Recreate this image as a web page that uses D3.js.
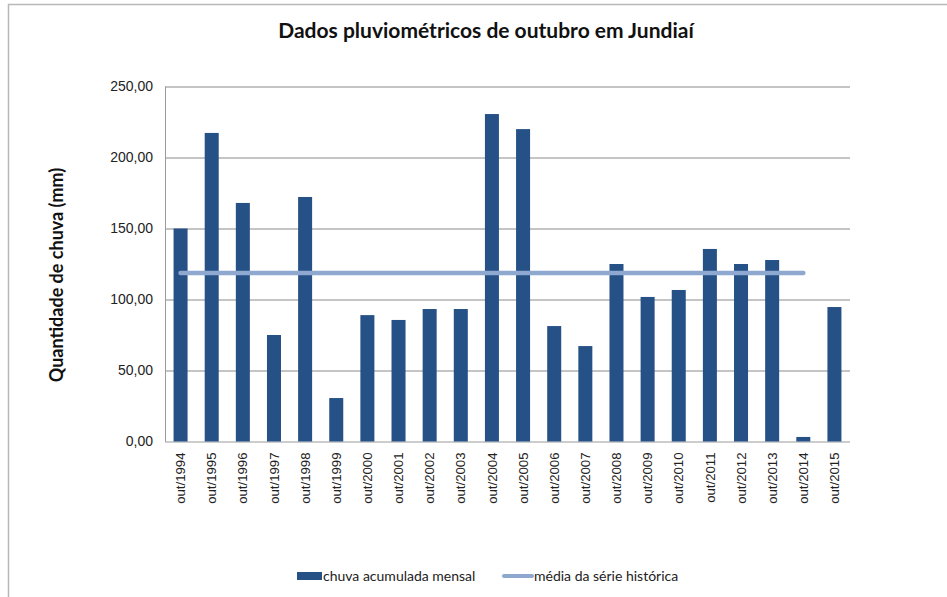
<!DOCTYPE html>
<html>
<head>
<meta charset="utf-8">
<title>Dados pluviométricos de outubro em Jundiaí</title>
<script src="https://d3js.org/d3.v7.min.js"></script>
<style>
body { margin: 0; background: #fff; }
svg { font-family: Lato, "Open Sans", sans-serif; }
.grid line { stroke: #8a8a8a; stroke-width: 1px; }
.axis text { fill: #222; }
</style>
</head>
<body>
<script>
// meses (outubro de cada ano)
var months = ["out/1994","out/1995","out/1996","out/1997","out/1998","out/1999","out/2000","out/2001",
  "out/2002","out/2003","out/2004","out/2005","out/2006","out/2007","out/2008","out/2009",
  "out/2010","out/2011","out/2012","out/2013","out/2014","out/2015"];

// chuva acumulada mensal (mm)
var rain = [150.0, 217.3, 168.0, 75.0, 172.2, 30.6, 89.0, 85.6, 93.3, 93.3, 230.6, 220.0,
  81.3, 67.2, 125.0, 101.8, 106.7, 135.6, 125.0, 127.8, 3.2, 94.7];

// média da série histórica (só até 2014)
var meanValue = 118.6;
var meanMonths = months.slice(0, 21);

var yTicks = [0, 50, 100, 150, 200, 250];

var W = 947, H = 597;
var margin = {left: 165, right: 97, top: 86.5, bottom: 155.5};
var iw = W - margin.left - margin.right,
    ih = H - margin.top - margin.bottom;

var svg = d3.select("body").append("svg")
    .attr("width", W)
    .attr("height", H);

// chart frame
svg.append("rect")
    .attr("x", 8.5).attr("y", 4.5)
    .attr("width", 1000).attr("height", 1000)
    .attr("fill", "#fff")
    .attr("stroke", "#b8b8b8")
    .attr("stroke-width", 1.5);

svg.append("text")
    .attr("x", 486).attr("y", 38)
    .attr("text-anchor", "middle")
    .style("font-size", "21px")
    .style("font-weight", "bold")
    .style("fill", "#111")
    .text("Dados pluviométricos de outubro em Jundiaí");

var g = svg.append("g")
    .attr("transform", "translate(" + margin.left + "," + margin.top + ")");

var x = d3.scaleBand()
    .domain(months)
    .range([0, iw])
    .paddingInner(0.55)
    .paddingOuter(0.275);

var y = d3.scaleLinear()
    .domain([0, 250])
    .range([ih, 0]);

// gridlines
g.append("g")
    .attr("class", "grid")
  .selectAll("line")
    .data(yTicks)
  .enter().append("line")
    .attr("x1", 0)
    .attr("x2", iw)
    .attr("y1", function(d) { return Math.round(y(d)) + 0.5; })
    .attr("y2", function(d) { return Math.round(y(d)) + 0.5; })
    .style("stroke", function(d) { return d === 0 ? "#9a9a9a" : "#8a8a8a"; });

// left axis line
g.append("line")
    .attr("x1", 0.5).attr("x2", 0.5)
    .attr("y1", 0).attr("y2", ih)
    .attr("stroke", "#9a9a9a");

var fmt = function(d) { return d3.format(".2f")(d).replace(".", ","); };

var yAxis = g.append("g")
    .attr("class", "axis")
    .call(d3.axisLeft(y).tickValues(yTicks).tickFormat(fmt).tickSize(0).tickPadding(12));
yAxis.select(".domain").remove();
yAxis.selectAll("text").style("font-size", "14px");

// bars
g.selectAll(".bar")
    .data(rain)
  .enter().append("rect")
    .attr("class", "bar")
    .attr("x", function(d, i) { return x(months[i]); })
    .attr("y", function(d) { return y(d); })
    .attr("width", x.bandwidth())
    .attr("height", function(d) { return ih - y(d); })
    .attr("fill", "#255186");

// mean line
var line = d3.line()
    .x(function(d) { return x(d) + x.bandwidth() / 2; })
    .y(function() { return y(meanValue); });

g.append("path")
    .datum(meanMonths)
    .attr("d", line)
    .attr("fill", "none")
    .attr("stroke", "#8ea8d0")
    .attr("stroke-width", 4.5)
    .attr("stroke-linecap", "round");

// x labels
var xAxis = g.append("g")
    .attr("class", "axis")
    .attr("transform", "translate(0," + ih + ")")
    .call(d3.axisBottom(x).tickSize(0).tickPadding(0));
xAxis.select(".domain").remove();
xAxis.selectAll("text")
    .attr("transform", "rotate(-90)")
    .attr("x", -11)
    .attr("y", 0)
    .attr("dy", "0.35em")
    .style("font-size", "13.2px")
    .style("text-anchor", "end");

// y label
svg.append("text")
    .attr("transform", "translate(63,275)rotate(-90)")
    .attr("text-anchor", "middle")
    .style("font-size", "18px")
    .style("font-weight", "bold")
    .style("fill", "#111")
    .text("Quantidade de chuva (mm)");

// legend
var leg = svg.append("g").attr("transform", "translate(297,576)");
leg.append("rect")
    .attr("x", 0).attr("y", -4)
    .attr("width", 25).attr("height", 8)
    .attr("fill", "#255186");
leg.append("text")
    .attr("x", 26).attr("y", 0).attr("dy", "0.35em")
    .style("font-size", "14px").style("fill", "#222")
    .text("chuva acumulada mensal");
leg.append("line")
    .attr("x1", 207).attr("x2", 235)
    .attr("y1", 0).attr("y2", 0)
    .attr("stroke", "#8ea8d0")
    .attr("stroke-width", 4)
    .attr("stroke-linecap", "round");
leg.append("text")
    .attr("x", 237).attr("y", 0).attr("dy", "0.35em")
    .style("font-size", "14px").style("fill", "#222")
    .text("média da série histórica");
</script>
</body>
</html>
